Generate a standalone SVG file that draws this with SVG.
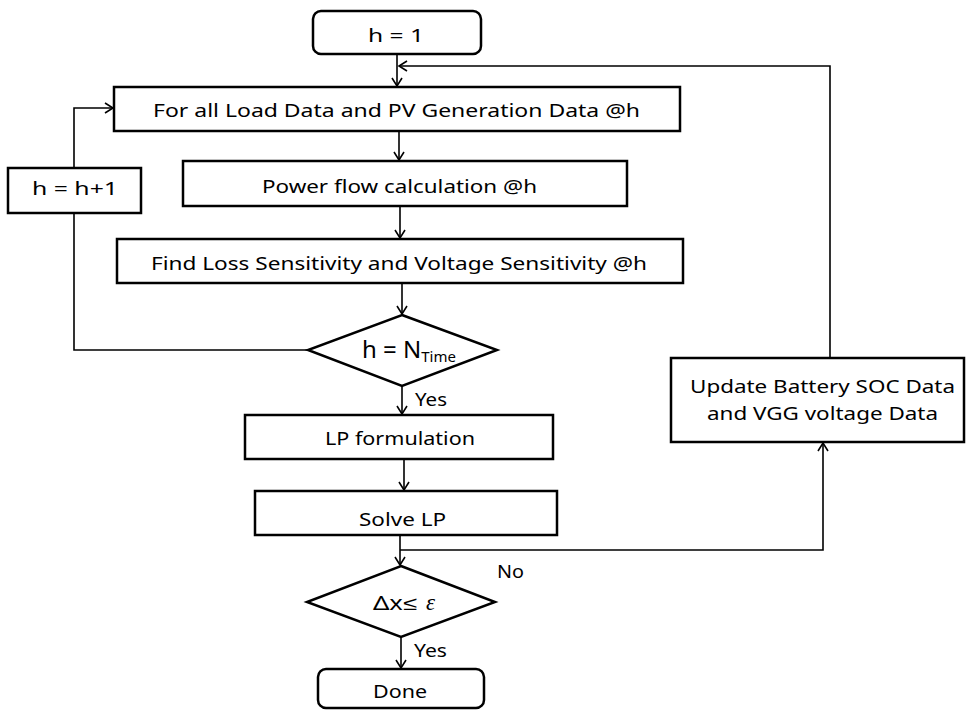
<svg xmlns="http://www.w3.org/2000/svg" width="967" height="712" viewBox="0 0 967 712">
<defs>
<style>
.box{fill:#fff;stroke:#000;stroke-width:2.5}
.ln{fill:none;stroke:#000;stroke-width:1.6}
.t{font-family:"Noto Sans","Liberation Sans",sans-serif;font-size:18px;fill:#000}
.big{font-size:24px}
</style>
<marker id="arr" markerUnits="userSpaceOnUse" markerWidth="14" markerHeight="14" refX="9" refY="6" orient="auto">
<path d="M1,1 L9,6 L1,11" fill="none" stroke="#000" stroke-width="1.6"/>
</marker>
</defs>
<rect width="967" height="712" fill="#fff"/>
<g id="connectors">
<line class="ln" x1="397" y1="54" x2="397" y2="86" marker-end="url(#arr)"/>
<polyline class="ln" points="830,358 830,66 399,66" marker-end="url(#arr)"/>
<line class="ln" x1="399" y1="131" x2="399" y2="160" marker-end="url(#arr)"/>
<line class="ln" x1="400" y1="206" x2="400" y2="238" marker-end="url(#arr)"/>
<line class="ln" x1="402" y1="283" x2="402" y2="314" marker-end="url(#arr)"/>
<polyline class="ln" points="308,350 74,350 74,213"/>
<polyline class="ln" points="74,168 74,108 113,108" marker-end="url(#arr)"/>
<line class="ln" x1="402" y1="386" x2="402" y2="414" marker-end="url(#arr)"/>
<line class="ln" x1="404" y1="459" x2="404" y2="490" marker-end="url(#arr)"/>
<line class="ln" x1="400" y1="535" x2="400" y2="565" marker-end="url(#arr)"/>
<polyline class="ln" points="400,550 823,550 823,443" marker-end="url(#arr)"/>
<line class="ln" x1="401" y1="637" x2="401" y2="668" marker-end="url(#arr)"/>
</g>
<g id="start">
<rect class="box" x="313" y="11" width="168" height="43" rx="8"/>
<text class="t" x="368" y="42" textLength="56" lengthAdjust="spacingAndGlyphs">h = 1</text>
</g>
<g id="forall">
<rect class="box" x="114" y="87" width="566" height="44"/>
<text class="t" x="153" y="117" textLength="487" lengthAdjust="spacingAndGlyphs">For all Load Data and PV Generation Data @h</text>
</g>
<g id="inc">
<rect class="box" x="8" y="168" width="133" height="45"/>
<text class="t" x="32" y="195" textLength="86" lengthAdjust="spacingAndGlyphs">h = h+1</text>
</g>
<g id="powerflow">
<rect class="box" x="183" y="161" width="444" height="45"/>
<text class="t" x="262" y="193" textLength="275" lengthAdjust="spacingAndGlyphs">Power flow calculation @h</text>
</g>
<g id="sensitivity">
<rect class="box" x="117" y="239" width="566" height="44"/>
<text class="t" x="151" y="270" textLength="496" lengthAdjust="spacingAndGlyphs">Find Loss Sensitivity and Voltage Sensitivity @h</text>
</g>
<g id="decision1">
<polygon class="box" points="402,315 497,350 402,386 308,350"/>
<text class="t big" x="362" y="358">h = N<tspan style="font-size:15px" dy="4">Time</tspan></text>
<text class="t" x="415" y="406" textLength="32" lengthAdjust="spacingAndGlyphs">Yes</text>
</g>
<g id="lpform">
<rect class="box" x="245" y="415" width="308" height="44"/>
<text class="t" x="325" y="445" textLength="150" lengthAdjust="spacingAndGlyphs">LP formulation</text>
</g>
<g id="solve">
<rect class="box" x="255" y="491" width="302" height="44"/>
<text class="t" x="359" y="526" textLength="87" lengthAdjust="spacingAndGlyphs">Solve LP</text>
</g>
<g id="update">
<rect class="box" x="671" y="358" width="293" height="84"/>
<text class="t" x="690" y="393" textLength="265" lengthAdjust="spacingAndGlyphs">Update Battery SOC Data</text>
<text class="t" x="707" y="420" textLength="231" lengthAdjust="spacingAndGlyphs">and VGG voltage Data</text>
</g>
<g id="decision2">
<polygon class="box" points="401,566 495,602 401,637 307,602"/>
<text class="t" x="373" y="610" style="font-size:19px" textLength="44" lengthAdjust="spacingAndGlyphs">Δx≤</text>
<text class="t" x="426" y="610" style="font-family:'Liberation Serif',serif;font-style:italic;font-size:23px">ε</text>
<text class="t" x="497" y="578" textLength="27" lengthAdjust="spacingAndGlyphs">No</text>
<text class="t" x="414" y="657" textLength="33" lengthAdjust="spacingAndGlyphs">Yes</text>
</g>
<g id="done">
<rect class="box" x="318" y="669" width="166" height="39" rx="8"/>
<text class="t" x="373" y="698" textLength="54" lengthAdjust="spacingAndGlyphs">Done</text>
</g>
</svg>
